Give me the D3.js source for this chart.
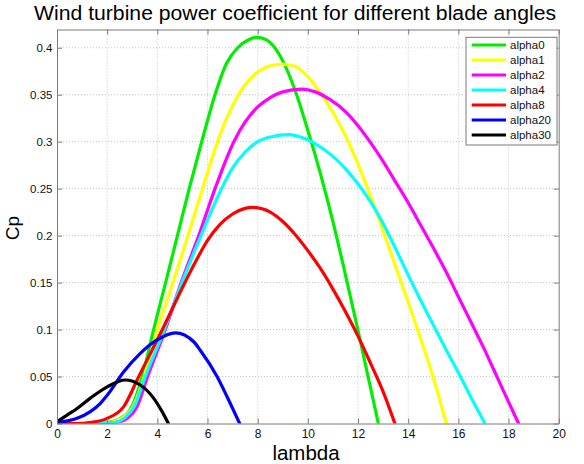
<!DOCTYPE html>
<html>
<head>
<meta charset="utf-8">
<script src="https://cdn.jsdelivr.net/npm/d3@7"></script>
<style>
  html, body { margin: 0; padding: 0; background: #fff; }
  svg { display: block; font-family: "Liberation Sans", Arial, sans-serif; }
</style>
</head>
<body>
<svg id="chart" width="584" height="464"></svg>
<script>
// ---- data: [lambda, Cp] ----
const seriesNames = ["alpha0", "alpha1", "alpha2", "alpha4", "alpha8", "alpha20", "alpha30"];
const seriesColors = ["#00ee00", "#ffff00", "#ff00ff", "#00ffff", "#ff0000", "#0000ff", "#000000"];

const alpha0 = [[0,0],[1.5,0],[2.0,0.001],[2.5,0.005],[3.0,0.019],[3.4,0.05],[3.85,0.1],[4.33,0.15],[4.8,0.2],[5.27,0.25],[5.77,0.3],[6.3,0.35],[6.75,0.383],[7.2,0.4],[7.6,0.408],[7.96,0.411],[8.3,0.409],[8.65,0.401],[9.0,0.386],[9.5,0.354],[10.0,0.312],[10.5,0.266],[11.0,0.215],[11.5,0.158],[12.0,0.099],[12.4,0.05],[12.81,0]];
const alpha1 = [[0,0],[1.6,0],[2.1,0.001],[2.6,0.006],[3.05,0.019],[3.48,0.05],[4.0,0.1],[4.62,0.15],[5.22,0.2],[5.8,0.25],[6.4,0.3],[6.9,0.333],[7.4,0.357],[7.9,0.372],[8.4,0.38],[8.96,0.3826],[9.5,0.38],[10.0,0.369],[10.5,0.352],[11.0,0.331],[11.5,0.306],[12.0,0.276],[12.5,0.242],[13.0,0.205],[13.5,0.167],[14.0,0.129],[14.5,0.09],[15.0,0.049],[15.52,0]];
const alpha2 = [[0,0],[1.8,0],[2.3,0.001],[2.79,0.0055],[3.19,0.018],[3.61,0.05],[4.32,0.1],[4.95,0.15],[5.65,0.2],[6.3,0.25],[7.05,0.3],[7.5,0.321],[8.0,0.337],[8.5,0.347],[9.0,0.353],[9.75,0.356],[10.3,0.353],[10.88,0.345],[11.5,0.332],[12.0,0.317],[12.5,0.299],[13.0,0.279],[13.5,0.257],[14.0,0.235],[14.5,0.211],[15.0,0.187],[15.5,0.162],[16.0,0.135],[16.5,0.108],[17.0,0.081],[17.5,0.052],[18.0,0.023],[18.4,0]];
const alpha4 = [[0,0],[1.8,0],[2.3,0.001],[2.7,0.006],[3.08,0.018],[3.52,0.05],[4.28,0.1],[4.98,0.15],[5.74,0.2],[6.56,0.25],[7.0,0.272],[7.5,0.289],[8.0,0.3],[8.5,0.305],[9.22,0.3074],[9.9,0.303],[10.4,0.296],[10.88,0.287],[11.5,0.271],[12.0,0.255],[12.5,0.236],[13.0,0.213],[13.5,0.186],[14.0,0.158],[14.5,0.131],[15.0,0.105],[15.5,0.079],[16.0,0.054],[16.5,0.028],[17.06,0]];
const alpha8 = [[0,0],[0.8,0],[1.3,0.001],[2.0,0.0055],[2.66,0.018],[3.26,0.05],[4.2,0.1],[5.1,0.15],[5.5,0.171],[6.0,0.195],[6.5,0.212],[7.0,0.223],[7.5,0.229],[7.8,0.23],[8.5,0.225],[9.0,0.215],[9.5,0.201],[10.0,0.184],[10.5,0.165],[11.0,0.143],[11.5,0.119],[12.0,0.093],[12.5,0.064],[13.0,0.034],[13.47,0]];
const alpha20 = [[0,0.001],[0.8,0.0055],[1.33,0.0126],[1.73,0.0215],[2.0,0.03],[2.66,0.055],[3.32,0.0747],[3.99,0.089],[4.72,0.0965],[5.45,0.087],[5.71,0.078],[6.38,0.05],[6.78,0.0285],[7.28,0]];
const alpha30 = [[0,0.002],[0.4,0.009],[0.8,0.016],[1.33,0.027],[2.0,0.039],[2.72,0.0463],[3.32,0.041],[3.85,0.027],[4.19,0.0126],[4.44,0]];

const xTicks = [0, 2, 4, 6, 8, 10, 12, 14, 16, 18, 20];
const yTicks = [0, 0.05, 0.1, 0.15, 0.2, 0.25, 0.3, 0.35, 0.4];
const yTickLabels = ["0", "0.05", "0.1", "0.15", "0.2", "0.25", "0.3", "0.35", "0.4"];
const titleText = "Wind turbine power coefficient for different blade angles";
const xLabelText = "lambda";
const yLabelText = "Cp";

const allSeries = [alpha0, alpha1, alpha2, alpha4, alpha8, alpha20, alpha30];

// ---- layout ----
const svg = d3.select("#chart");
const L = 57, R = 558.7, T = 29.5, B = 423.5;
const x = d3.scaleLinear().domain([0, 20]).range([L, R]);
const y = d3.scaleLinear().domain([0, 0.4194]).range([B, T]);

// grid
const grid = svg.append("g");
grid.selectAll("line.gx").data(xTicks.slice(1, -1)).join("line")
  .attr("x1", d => x(d)).attr("x2", d => x(d)).attr("y1", T).attr("y2", B)
  .attr("stroke", "#c4c4c4").attr("stroke-width", 1).attr("stroke-dasharray", "1,2");
grid.selectAll("line.gy").data(yTicks.slice(1)).join("line")
  .attr("x1", L).attr("x2", R).attr("y1", d => y(d)).attr("y2", d => y(d))
  .attr("stroke", "#c4c4c4").attr("stroke-width", 1).attr("stroke-dasharray", "1,2");

// clip
svg.append("clipPath").attr("id", "clip").append("rect")
  .attr("x", L).attr("y", T).attr("width", R - L).attr("height", B - T);

// lines
const line = d3.line().x(d => x(d[0])).y(d => y(d[1])).curve(d3.curveMonotoneX);
svg.append("g").attr("clip-path", "url(#clip)")
  .selectAll("path").data(allSeries).join("path")
  .attr("d", d => line(d))
  .attr("fill", "none")
  .attr("stroke", (d, i) => seriesColors[i])
  .attr("stroke-width", 3.2)
  .attr("stroke-linejoin", "round")
  .attr("stroke-linecap", "round");

// axes (MATLAB-like box with inward ticks)
const axColor = "#7a7a7a";
const tickLen = 5;
const xAxisB = d3.axisBottom(x).tickValues(xTicks).tickSizeInner(-tickLen).tickSizeOuter(0).tickPadding(6).tickFormat(d3.format("d"));
const xAxisT = d3.axisTop(x).tickValues(xTicks).tickSizeInner(-tickLen).tickSizeOuter(0).tickFormat("");
const yAxisL = d3.axisLeft(y).tickValues(yTicks).tickSizeInner(-tickLen).tickSizeOuter(0).tickPadding(4.5).tickFormat((d, i) => yTickLabels[i]);
const yAxisR = d3.axisRight(y).tickValues(yTicks).tickSizeInner(-tickLen).tickSizeOuter(0).tickFormat("");

function styleAxis(g, size) {
  g.select(".domain").attr("stroke", axColor);
  g.selectAll(".tick line").attr("stroke", axColor);
  g.selectAll(".tick text").attr("fill", "#111").attr("font-size", size)
    .attr("font-family", "'Liberation Sans', Arial, sans-serif");
}
svg.append("g").attr("transform", `translate(0,${B})`).call(xAxisB).call(styleAxis, 12);
svg.append("g").attr("transform", `translate(0,${T})`).call(xAxisT).call(styleAxis, 12);
svg.append("g").attr("transform", `translate(${L},0)`).call(yAxisL).call(styleAxis, 11.5);
svg.append("g").attr("transform", `translate(${R},0)`).call(yAxisR).call(styleAxis, 11.5);

// title & labels
svg.append("text").attr("x", 295).attr("y", 19.5).attr("text-anchor", "middle")
  .attr("font-size", 20).attr("textLength", 522).attr("lengthAdjust", "spacingAndGlyphs")
  .attr("fill", "#000").text(titleText);
svg.append("text").attr("x", 306).attr("y", 459.5).attr("text-anchor", "middle")
  .attr("font-size", 20.5).attr("fill", "#000").text(xLabelText);
svg.append("text").attr("transform", "translate(19,228) rotate(-90)").attr("text-anchor", "middle")
  .attr("font-size", 19).attr("fill", "#000").text(yLabelText);

// legend
const lg = svg.append("g");
const lgX = 466, lgY = 37.3, lgW = 91, lgH = 107.7;
lg.append("rect").attr("x", lgX).attr("y", lgY).attr("width", lgW).attr("height", lgH)
  .attr("fill", "#fff").attr("stroke", axColor).attr("stroke-width", 1);
const rowY = d3.scalePoint().domain(seriesNames).range([lgY + 7.7, lgY + 97.7]);
const rows = lg.selectAll("g.row").data(seriesNames).join("g")
  .attr("transform", d => `translate(0,${rowY(d)})`);
rows.append("line").attr("x1", 471.7).attr("x2", 506).attr("y1", 0).attr("y2", 0)
  .attr("stroke", (d, i) => seriesColors[i]).attr("stroke-width", 3.2);
rows.append("text").attr("x", 510).attr("y", 4.2).attr("font-size", 11.5)
  .attr("fill", "#111").text(d => d);
</script>
</body>
</html>
